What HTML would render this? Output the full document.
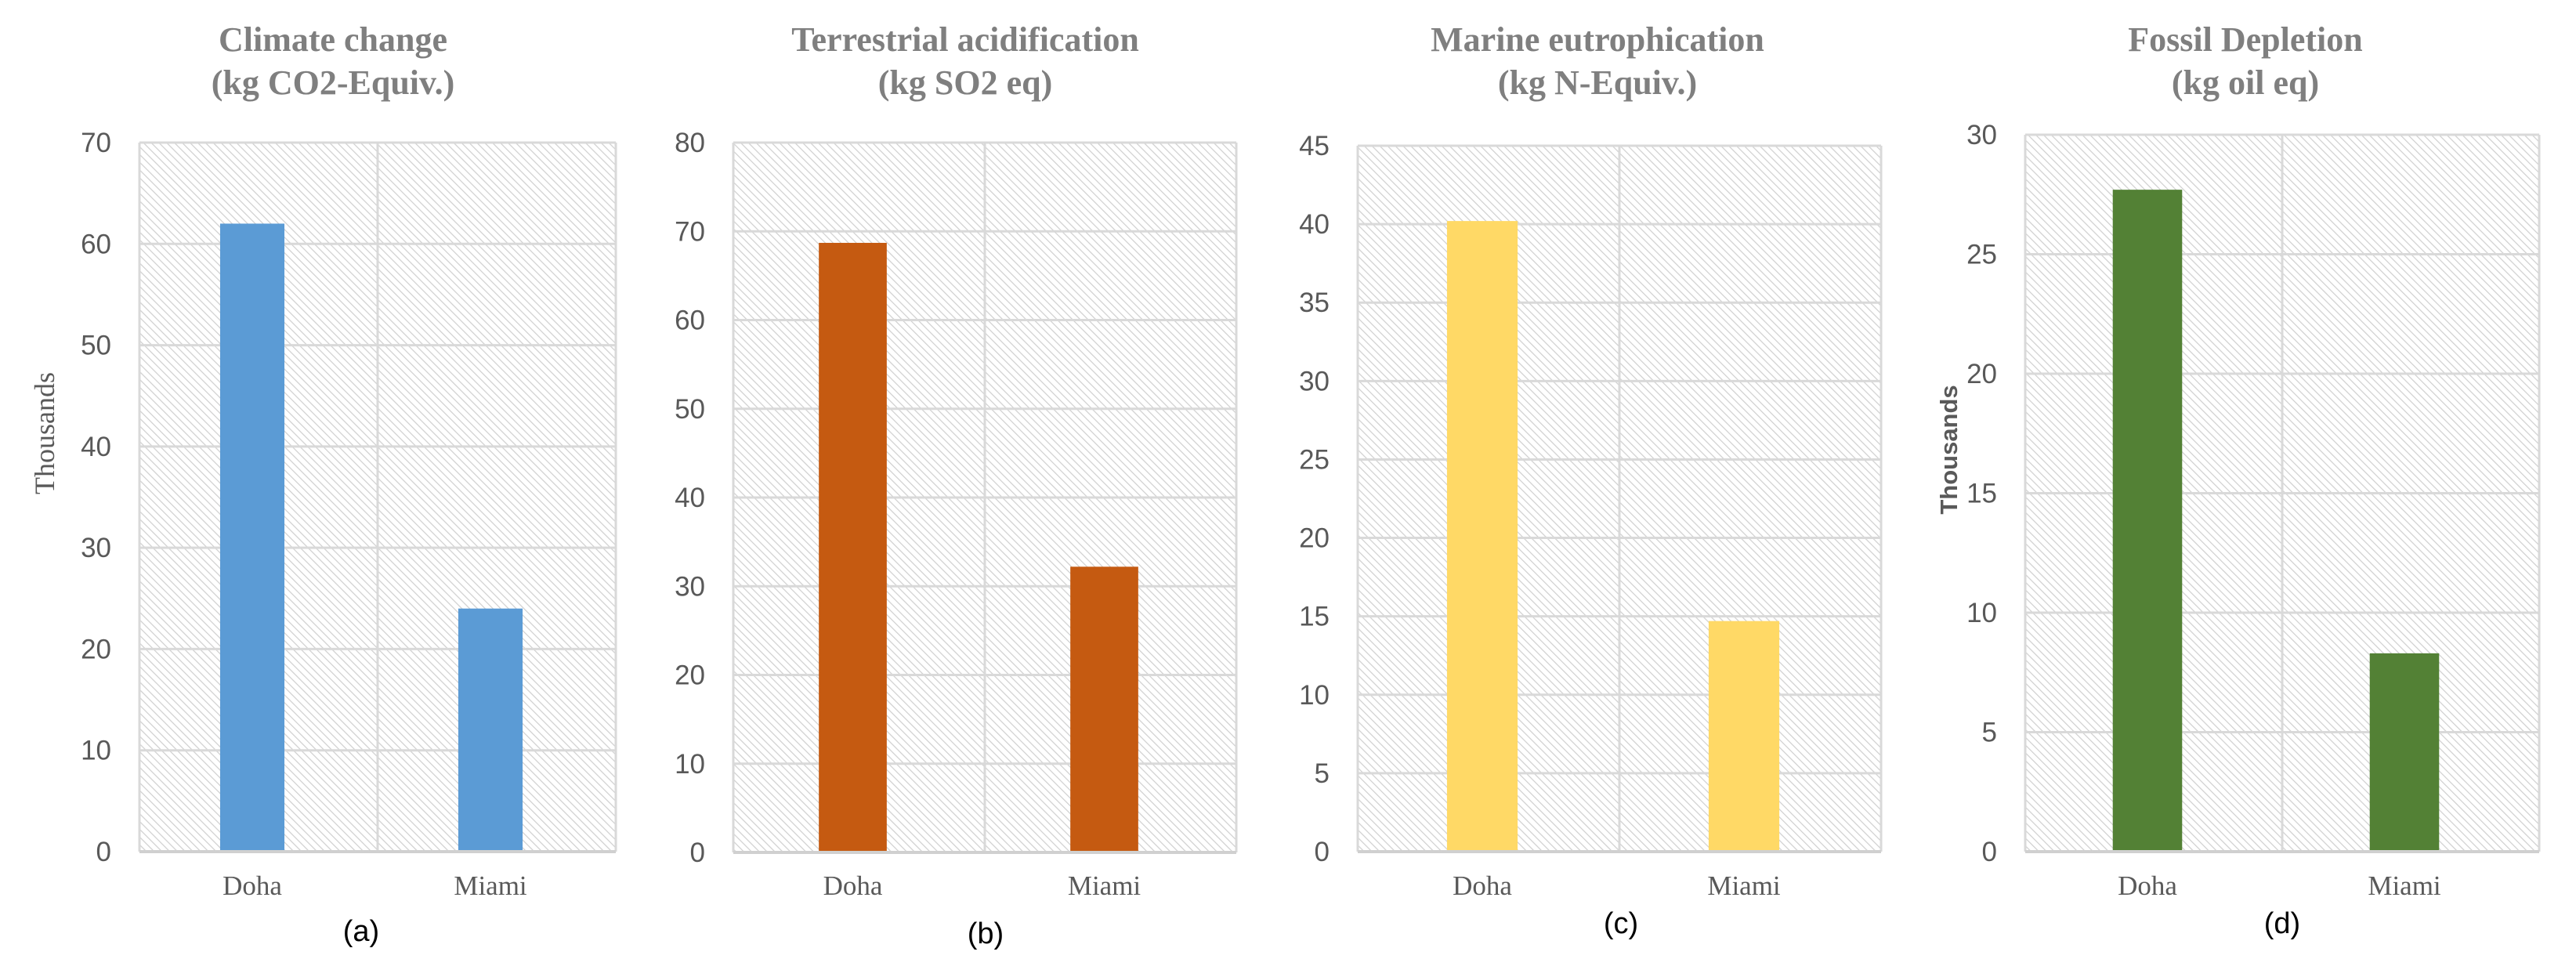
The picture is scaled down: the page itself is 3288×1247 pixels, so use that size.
<!DOCTYPE html>
<html><head><meta charset="utf-8"><style>
html,body{margin:0;padding:0;background:#fff;}
svg{display:block;}
</style></head><body>
<svg id="fig" width="3288" height="1247" viewBox="0 0 3288 1247" xmlns="http://www.w3.org/2000/svg">
<defs>
<pattern id="hatch" patternUnits="userSpaceOnUse" width="7" height="7" patternTransform="rotate(-45)">
<rect width="7" height="7" fill="#ffffff"/>
<line x1="0" y1="0" x2="0" y2="7" stroke="#cfcfcf" stroke-width="2.4"/>
</pattern>
</defs>
<g id="charts"></g>
</svg>
<script>
const categories = ["Doha", "Miami"];
const titlesLine1 = ["Climate change", "Terrestrial acidification", "Marine eutrophication", "Fossil Depletion"];
const titlesLine2 = ["(kg CO2-Equiv.)", "(kg SO2 eq)", "(kg N-Equiv.)", "(kg oil eq)"];
const panelLabels = ["(a)", "(b)", "(c)", "(d)"];
const valuesA = [62, 24];
const valuesB = [68.7, 32.2];
const valuesC = [40.2, 14.7];
const valuesD = [27.7, 8.3];
const ticksA = [0, 10, 20, 30, 40, 50, 60, 70];
const ticksB = [0, 10, 20, 30, 40, 50, 60, 70, 80];
const ticksC = [0, 5, 10, 15, 20, 25, 30, 35, 40, 45];
const ticksD = [0, 5, 10, 15, 20, 25, 30];

const NS = "http://www.w3.org/2000/svg";
const root = document.getElementById("charts");
const layout = [
  {l:178, r:786, t:182, b:1087, color:"#5b9bd5", vals:valuesA, ticks:ticksA, yTitle:"serif", tx:425, px:461, py:1187},
  {l:936, r:1578, t:182, b:1088, color:"#c55a11", vals:valuesB, ticks:ticksB, yTitle:null, tx:1232, px:1258, py:1190},
  {l:1733, r:2401, t:186, b:1087, color:"#ffd966", vals:valuesC, ticks:ticksC, yTitle:null, tx:2039, px:2069, py:1177},
  {l:2585, r:3241, t:172, b:1087, color:"#538135", vals:valuesD, ticks:ticksD, yTitle:"sans", tx:2866, px:2913, py:1177}
];
function mk(tag, attrs, parent){
  const e = document.createElementNS(NS, tag);
  for (const k in attrs) e.setAttribute(k, attrs[k]);
  parent.appendChild(e);
  return e;
}
layout.forEach((c, i) => {
  const g = mk("g", {}, root);
  
  
  const maxV = c.ticks[c.ticks.length - 1];
  const y = v => c.b - (v / maxV) * (c.b - c.t);
  const bandW = (c.r - c.l) / categories.length;
  const xCenter = j => c.l + bandW * (j + 0.5);

  const bg = mk("rect", {x:c.l, y:c.t, width:c.r - c.l, height:c.b - c.t, fill:"url(#hatch)"}, g);
  
  

  c.ticks.forEach(t => {
    const ln = mk("line", {x1:c.l, x2:c.r, y1:y(t), y2:y(t), stroke:"#d9d9d9", "stroke-width":3}, g);
    
    
    const tl = mk("text", {x:c.l - 36, y:y(t) + 12, "text-anchor":"end", "font-family":"Liberation Sans, sans-serif", "font-size":35, fill:"#595959"}, g);
    tl.textContent = t;
    
    
  });
  for (let j = 0; j <= categories.length; j++) {
    const vx = c.l + bandW * j;
    const vl = mk("line", {x1:vx, x2:vx, y1:c.t, y2:c.b, stroke:"#d9d9d9", "stroke-width":3}, g);
    
    
  }
  const barW = bandW * 0.27;
  categories.forEach((cat, j) => {
    const v = c.vals[j];
    const bar = mk("rect", {x:xCenter(j) - barW / 2 - 8, y:y(v), width:barW, height:c.b - y(v), fill:c.color}, g);
    
    
    const xl = mk("text", {x:xCenter(j) - 8, y:1142, "text-anchor":"middle", "font-family":"Liberation Serif, serif", "font-size":35, fill:"#595959"}, g);
    xl.textContent = cat;
    
    
  });
  const axis = mk("line", {x1:c.l, x2:c.r, y1:c.b, y2:c.b, stroke:"#d0d0d0", "stroke-width":4}, g);
  
  

  const t1 = mk("text", {x:c.tx, y:65, "text-anchor":"middle", "font-family":"Liberation Serif, serif", "font-weight":"bold", "font-size":44, fill:"#7f7f7f"}, g);
  t1.textContent = titlesLine1[i];
  
  
  const t2 = mk("text", {x:c.tx, y:120, "text-anchor":"middle", "font-family":"Liberation Serif, serif", "font-weight":"bold", "font-size":44, fill:"#7f7f7f"}, g);
  t2.textContent = titlesLine2[i];
  
  

  const pl = mk("text", {x:c.px, y:c.py + 14, "text-anchor":"middle", "font-family":"Liberation Sans, sans-serif", "font-size":38, fill:"#000"}, g);
  pl.textContent = panelLabels[i];
  
  

  if (c.yTitle === "serif") {
    const yt = mk("text", {x:0, y:0, transform:"translate(69,553) rotate(-90)", "text-anchor":"middle", "font-family":"Liberation Serif, serif", "font-size":36, fill:"#595959"}, g);
    yt.textContent = "Thousands";
    
    
  } else if (c.yTitle === "sans") {
    const yt = mk("text", {x:0, y:0, transform:"translate(2498,574) rotate(-90)", "text-anchor":"middle", "font-family":"Liberation Sans, sans-serif", "font-weight":"bold", "font-size":31, fill:"#595959"}, g);
    yt.textContent = "Thousands";
    
    
  }
});
</script>
</body></html>
